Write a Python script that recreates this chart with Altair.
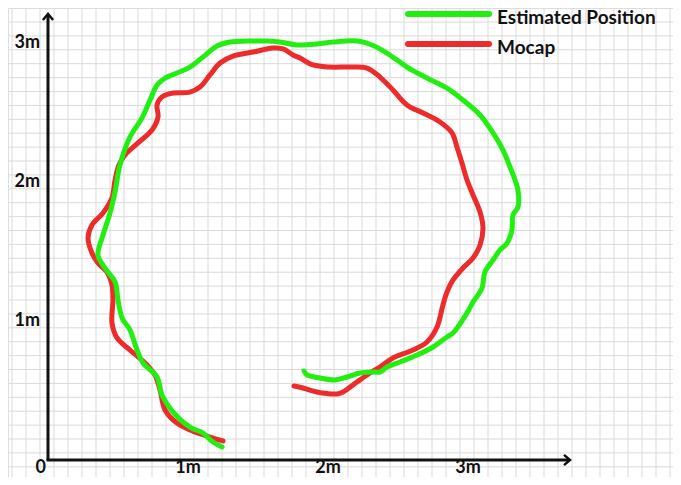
import altair as alt
import numpy as np
import pandas as pd

# ---------------- data (metres) ----------------
series_names = ["Estimated Position", "Mocap"]
series_colors = ["#22ee11", "#ee2b2b"]

est_x = [1.243, 1.179, 1.107, 1.014, 0.893, 0.814, 0.779, 0.679, 0.636, 0.586,
         0.529, 0.500, 0.479, 0.407, 0.357, 0.393, 0.443, 0.479, 0.514, 0.586,
         0.671, 0.729, 0.779, 0.836, 0.921, 1.014, 1.107, 1.207, 1.300, 1.421,
         1.564, 1.657, 1.779, 1.921, 2.036, 2.214, 2.314, 2.421, 2.564, 2.707,
         2.850, 2.964, 3.086, 3.179, 3.250, 3.300, 3.336, 3.357, 3.357, 3.321,
         3.314, 3.279, 3.229, 3.179, 3.121, 3.100, 3.036, 2.993, 2.893, 2.850,
         2.750, 2.636, 2.514, 2.421, 2.371, 2.321, 2.229, 2.136, 2.050, 1.943,
         1.850, 1.829]
est_y = [0.094, 0.129, 0.194, 0.237, 0.345, 0.468, 0.597, 0.698, 0.791, 0.935,
         1.022, 1.151, 1.281, 1.381, 1.475, 1.619, 1.777, 1.928, 2.122, 2.324,
         2.460, 2.590, 2.698, 2.748, 2.784, 2.827, 2.899, 2.978, 3.007, 3.014,
         3.014, 3.007, 2.986, 2.993, 3.007, 3.014, 2.986, 2.928, 2.827, 2.748,
         2.676, 2.590, 2.482, 2.353, 2.230, 2.108, 2.014, 1.942, 1.820, 1.763,
         1.655, 1.561, 1.511, 1.439, 1.353, 1.237, 1.137, 1.058, 0.914, 0.885,
         0.813, 0.755, 0.705, 0.669, 0.633, 0.633, 0.626, 0.597, 0.576, 0.590,
         0.612, 0.640]

mocap_x = [1.250, 1.157, 1.050, 0.921, 0.836, 0.800, 0.764, 0.693, 0.586, 0.493,
           0.457, 0.464, 0.457, 0.421, 0.357, 0.314, 0.286, 0.314, 0.393, 0.457,
           0.479, 0.507, 0.550, 0.643, 0.743, 0.786, 0.779, 0.814, 0.893, 1.014,
           1.086, 1.157, 1.229, 1.321, 1.464, 1.607, 1.679, 1.750, 1.800, 1.893,
           2.014, 2.157, 2.279, 2.371, 2.464, 2.564, 2.679, 2.800, 2.886, 2.921,
           2.957, 2.993, 3.036, 3.086, 3.107, 3.086, 3.036, 2.964, 2.893, 2.850,
           2.821, 2.779, 2.707, 2.607, 2.464, 2.371, 2.300, 2.207, 2.107, 2.064,
           1.921, 1.821, 1.757]
mocap_y = [0.137, 0.165, 0.201, 0.266, 0.360, 0.504, 0.612, 0.698, 0.791, 0.878,
           0.986, 1.151, 1.259, 1.353, 1.417, 1.489, 1.597, 1.691, 1.777, 1.885,
           2.014, 2.122, 2.194, 2.281, 2.374, 2.468, 2.554, 2.612, 2.640, 2.647,
           2.683, 2.770, 2.856, 2.906, 2.935, 2.964, 2.957, 2.914, 2.892, 2.842,
           2.827, 2.827, 2.820, 2.755, 2.662, 2.554, 2.496, 2.432, 2.353, 2.252,
           2.137, 2.014, 1.906, 1.784, 1.669, 1.547, 1.453, 1.381, 1.295, 1.209,
           1.115, 0.957, 0.849, 0.791, 0.734, 0.669, 0.626, 0.561, 0.489, 0.475,
           0.489, 0.518, 0.532]

x_ticks = [1, 2, 3]
x_tick_labels = ["1m", "2m", "3m"]
y_ticks = [1, 2, 3]
y_tick_labels = ["1m", "2m", "3m"]
origin_label = "0"

# ---------------- geometry / styling ----------------
W, H = 665, 469
x_dom = [-0.2857, 4.4643]
y_dom = [-0.1223, 3.2518]
grid_x = list(np.round(np.arange(-0.257, 4.46, 0.1), 4))
grid_y = list(np.round(3.151 - np.arange(0, 3.28, 0.1), 4))
FONT = "Lato"
INK = "#111111"
GRID = "#dadada"

xs = alt.Scale(domain=x_dom, nice=False, zero=False)
ys = alt.Scale(domain=y_dom, nice=False, zero=False)

# background graph-paper grid
vgrid = alt.Chart(pd.DataFrame({"x": grid_x})).mark_rule(
    color=GRID, strokeWidth=1).encode(x=alt.X("x:Q", scale=xs, axis=None))
hgrid = alt.Chart(pd.DataFrame({"y": grid_y})).mark_rule(
    color=GRID, strokeWidth=1).encode(y=alt.Y("y:Q", scale=ys, axis=None))


def series_df(xv, yv, name):
    return pd.DataFrame({"x": xv, "y": yv, "series": name, "i": range(len(xv))})


mocap_df = series_df(mocap_x, mocap_y, series_names[1])
est_df = series_df(est_x, est_y, series_names[0])


def line_layer(df, color):
    return alt.Chart(df).mark_line(
        strokeWidth=5, interpolate="catmull-rom", strokeCap="round",
        strokeJoin="round", color=color
    ).encode(
        x=alt.X("x:Q", scale=xs, axis=None),
        y=alt.Y("y:Q", scale=ys, axis=None),
        order="i:Q",
    )


mocap_line = line_layer(mocap_df, series_colors[1])
est_line = line_layer(est_df, series_colors[0])

one = pd.DataFrame({"a": [0]})

# axes lines + arrowheads (pixel positions in plot area)
y_axis = alt.Chart(one).mark_rule(color=INK, strokeWidth=3).encode(
    x=alt.value(40), y=alt.value(7), y2=alt.value(452))
x_axis = alt.Chart(one).mark_rule(color=INK, strokeWidth=3).encode(
    x=alt.value(38.5), x2=alt.value(561), y=alt.value(452))
y_arrow = alt.Chart(one).mark_point(
    shape="M-0.85,1L0,0L0.85,1", size=144, filled=False, stroke=INK,
    strokeWidth=2.5, opacity=1).encode(x=alt.value(40), y=alt.value(6))
x_arrow = alt.Chart(one).mark_point(
    shape="M-1,-0.85L0,0L-1,0.85", size=144, filled=False, stroke=INK,
    strokeWidth=2.5, opacity=1).encode(x=alt.value(562), y=alt.value(452))

# tick labels
xl_df = pd.DataFrame({"x": x_ticks, "label": x_tick_labels})
yl_df = pd.DataFrame({"y": y_ticks, "label": y_tick_labels})
x_labels = alt.Chart(xl_df).mark_text(
    font=FONT, fontWeight="bold", fontSize=18, color=INK,
    align="center", baseline="alphabetic").encode(
    x=alt.X("x:Q", scale=xs, axis=None), y=alt.value(465), text="label:N")
zero_label = alt.Chart(pd.DataFrame({"x": [0], "label": [origin_label]})).mark_text(
    font=FONT, fontWeight="bold", fontSize=18, color=INK,
    align="right", baseline="alphabetic", dx=-2).encode(
    x=alt.X("x:Q", scale=xs, axis=None), y=alt.value(465), text="label:N")
y_labels = alt.Chart(yl_df).mark_text(
    font=FONT, fontWeight="bold", fontSize=18, color=INK,
    align="right", baseline="middle").encode(
    y=alt.Y("y:Q", scale=ys, axis=None), x=alt.value(32), text="label:N")

# manual legend
legend_layers = []
for k, (name, col) in enumerate(zip(series_names, series_colors)):
    ypos = 6 + 30 * k
    legend_layers.append(alt.Chart(one).mark_rule(
        color=col, strokeWidth=6, strokeCap="round").encode(
        x=alt.value(400), x2=alt.value(481), y=alt.value(ypos)))
    legend_layers.append(alt.Chart(pd.DataFrame({"t": [name]})).mark_text(
        font=FONT, fontWeight="bold", fontSize=19, color=INK,
        align="left", baseline="alphabetic").encode(
        x=alt.value(489), y=alt.value(ypos + 10), text="t:N"))

chart = alt.layer(
    vgrid, hgrid, mocap_line, est_line, y_axis, x_axis, y_arrow, x_arrow,
    x_labels, zero_label, y_labels, *legend_layers
).properties(
    width=W, height=H,
    autosize=alt.AutoSizeParams(type="none"),
    padding=0,
).configure_view(stroke=None).configure(background="white")

chart.save("out.html", embed_options={"renderer": "svg", "actions": False})
